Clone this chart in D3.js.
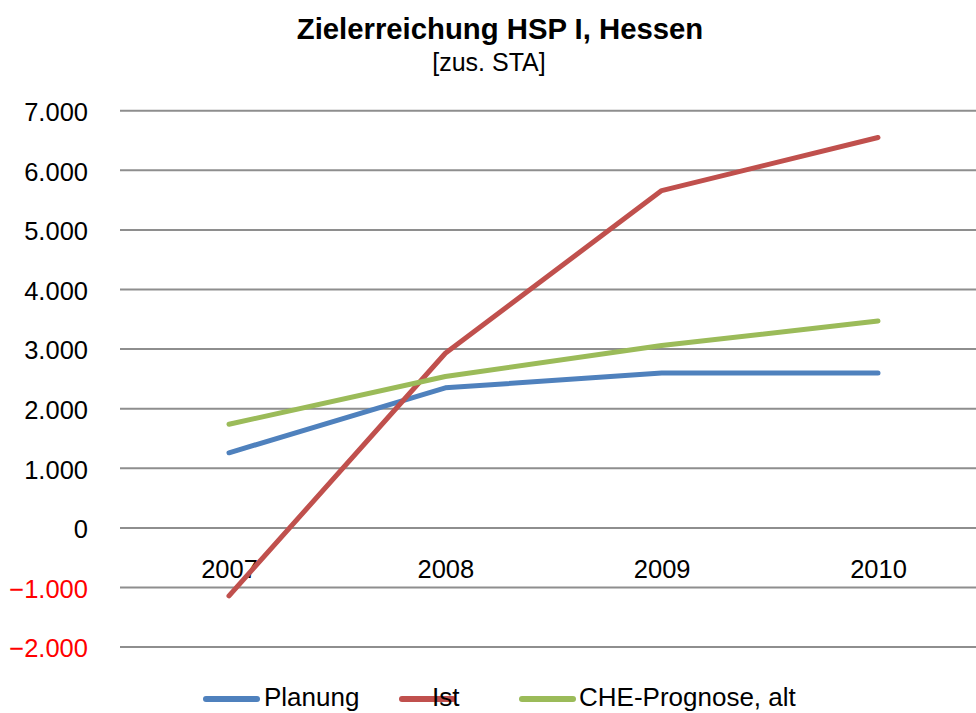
<!DOCTYPE html>
<html>
<head>
<meta charset="utf-8">
<script src="https://cdn.jsdelivr.net/npm/d3@7"></script>
<style>
  html, body { margin: 0; padding: 0; background: #fff; }
  svg { display: block; font-family: "Liberation Sans", Arial, sans-serif; }
</style>
</head>
<body>
<svg id="chart" width="976" height="713"></svg>
<script>
// Chart data
const years = ["2007", "2008", "2009", "2010"];
const planung = [1260, 2350, 2600, 2600];
const ist = [-1140, 2930, 5660, 6550];
const cheProg = [1740, 2540, 3060, 3470];
const yTicks = [-2000, -1000, 0, 1000, 2000, 3000, 4000, 5000, 6000, 7000];
const seriesNames = ["Planung", "Ist", "CHE-Prognose, alt"];
const seriesColors = ["#4F81BD", "#C0504D", "#9BBB59"];

const svg = d3.select("#chart");
const fmt = v => d3.format(",")(v).replace(/,/g, ".");

const x = d3.scalePoint().domain(years).range([229, 878]);
const y = d3.scaleLinear().domain([-2000, 7000]).range([647.1, 110.7]);

// Title
svg.append("text").attr("x", 500).attr("y", 39).attr("text-anchor", "middle")
  .attr("font-size", 29.3).attr("font-weight", "bold").attr("fill", "#000")
  .text("Zielerreichung HSP I, Hessen");
svg.append("text").attr("x", 489).attr("y", 71).attr("text-anchor", "middle")
  .attr("font-size", 25).attr("fill", "#000")
  .text("[zus. STA]");

// Horizontal gridlines
svg.append("g").selectAll("line").data(yTicks).join("line")
  .attr("x1", 120).attr("x2", 976)
  .attr("y1", d => y(d)).attr("y2", d => y(d))
  .attr("stroke", "#8E8E8E").attr("stroke-width", 2);

// Value labels via a left axis
const yAxis = d3.axisLeft(y).tickValues(yTicks).tickSize(0).tickPadding(0).tickFormat(fmt);
const gy = svg.append("g").attr("transform", "translate(88,0)").call(yAxis);
gy.select(".domain").remove();
gy.selectAll("text")
  .attr("font-size", 25.5).attr("font-family", "Liberation Sans, Arial, sans-serif")
  .attr("fill", d => d < 0 ? "#FF0000" : "#000")
  .attr("dy", "0.38em");

// Category labels sit just below the zero line
const xAxis = d3.axisBottom(x).tickSize(0).tickPadding(0);
const gx = svg.append("g").attr("transform", `translate(0,${y(0)})`).call(xAxis);
gx.select(".domain").remove();
gx.selectAll("text").attr("font-size", 25.5)
  .attr("font-family", "Liberation Sans, Arial, sans-serif")
  .attr("fill", "#000").attr("dy", "1.97em");

// Series lines
const series = [planung, ist, cheProg];
const line = d3.line().x((d, i) => x(years[i])).y(d => y(d));
svg.append("g").selectAll("path").data(series).join("path")
  .attr("d", d => line(d))
  .attr("fill", "none")
  .attr("stroke", (d, i) => seriesColors[i])
  .attr("stroke-width", 5)
  .attr("stroke-linecap", "round")
  .attr("stroke-linejoin", "round");

// Legend
const legendItems = [
  { x: 206, tx: 264 },
  { x: 402, tx: 432 },
  { x: 522, tx: 579 }
];
const lg = svg.append("g");
legendItems.forEach((it, i) => {
  lg.append("line").attr("x1", it.x).attr("x2", it.x + 51)
    .attr("y1", 699).attr("y2", 699)
    .attr("stroke", seriesColors[i]).attr("stroke-width", 6)
    .attr("stroke-linecap", "round");
  lg.append("text").attr("x", it.tx).attr("y", 706)
    .attr("font-size", 26).attr("fill", "#000")
    .text(seriesNames[i]);
});
</script>
</body>
</html>
